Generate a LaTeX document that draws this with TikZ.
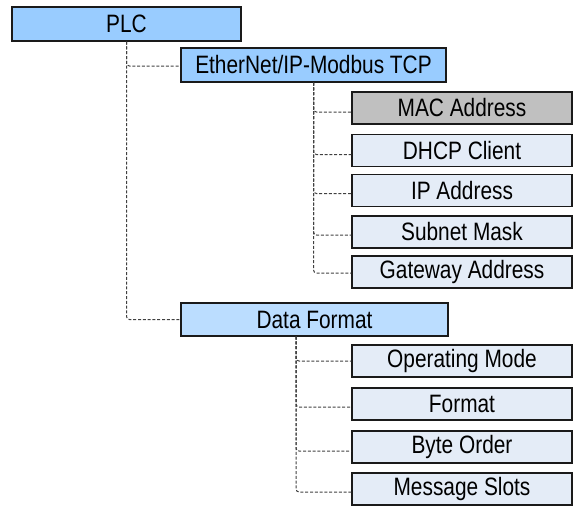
\documentclass[tikz,border=0pt]{standalone}
\usepackage{fontspec}
\usepackage{graphicx}
\setmainfont{Liberation Sans}
\definecolor{topblue}{HTML}{99CCFF}
\definecolor{midblue}{HTML}{BBDDFF}
\definecolor{leaf}{HTML}{E4ECF7}
\definecolor{macgrey}{HTML}{C0C0C0}
\definecolor{edge}{HTML}{1A1A1A}
\definecolor{conncol}{HTML}{404040}
\newcommand{\stretchtxt}[1]{\scalebox{0.97}[1.17]{#1}}
\tikzset{
  box/.style={draw=edge, line width=1.2pt, inner sep=0pt, anchor=center,
    font=\fontsize{21.5}{25}\selectfont},
  topbox/.style={box, fill=topblue},
  midbox/.style={box, fill=midblue},
  leafbox/.style={box, fill=leaf, minimum width=220pt, minimum height=32pt},
  greybox/.style={box, fill=macgrey, minimum width=220pt, minimum height=32pt},
  conn/.style={draw=conncol, line width=1pt, dash pattern=on 3pt off 1.8pt, rounded corners=3pt}
}
\begin{document}
\begin{tikzpicture}[x=1pt,y=-1pt]
\useasboundingbox (0,0) rectangle (573,506);
\clip (0,0) rectangle (573,506);
\node[topbox, minimum width=229pt, minimum height=34pt] (plc) at (126.5,24) {\stretchtxt{PLC}};
\node[topbox, minimum width=265pt, minimum height=34pt] (eth) at (313.5,65) {\stretchtxt{EtherNet/IP-Modbus TCP}};
\node[midbox, minimum width=267pt, minimum height=33pt] (df) at (314.5,319.5) {\stretchtxt{Data Format}};
\node[greybox] (mac) at (462,108) {\stretchtxt{MAC Address}};
\node[leafbox] (dhcp) at (462,150.5) {\stretchtxt{DHCP Client}};
\node[leafbox] (ip) at (462,190.5) {\stretchtxt{IP Address}};
\node[leafbox] (sub) at (462,232) {\stretchtxt{Subnet Mask}};
\node[leafbox] (gw) at (462,272) {\stretchtxt{Gateway Address}};
\node[leafbox] (op) at (462,361) {\stretchtxt{Operating Mode}};
\node[leafbox] (fmt) at (462,404) {\stretchtxt{Format}};
\node[leafbox] (bo) at (462,447) {\stretchtxt{Byte Order}};
\node[leafbox] (ms) at (462,489) {\stretchtxt{Message Slots}};
\draw[conn] (plc.south) |- ([yshift=-1pt]eth.west);
\draw[conn] (plc.south) |- (df.west);
\draw[conn] (eth.south) |- ([yshift=-4pt]mac.west);
\draw[conn] (eth.south) |- ([yshift=-4pt]dhcp.west);
\draw[conn] (eth.south) |- ([yshift=-3pt]ip.west);
\draw[conn] (eth.south) |- ([yshift=-3pt]sub.west);
\draw[conn] (eth.south) |- ([yshift=-1pt]gw.west);
\draw[conn] ([xshift=-18.5pt]df.south) |- (op.west);
\draw[conn] ([xshift=-18.5pt]df.south) |- ([yshift=-3pt]fmt.west);
\draw[conn] ([xshift=-18.5pt]df.south) |- ([yshift=-4pt]bo.west);
\draw[conn] ([xshift=-18.5pt]df.south) |- ([yshift=-3pt]ms.west);
\end{tikzpicture}
\end{document}
